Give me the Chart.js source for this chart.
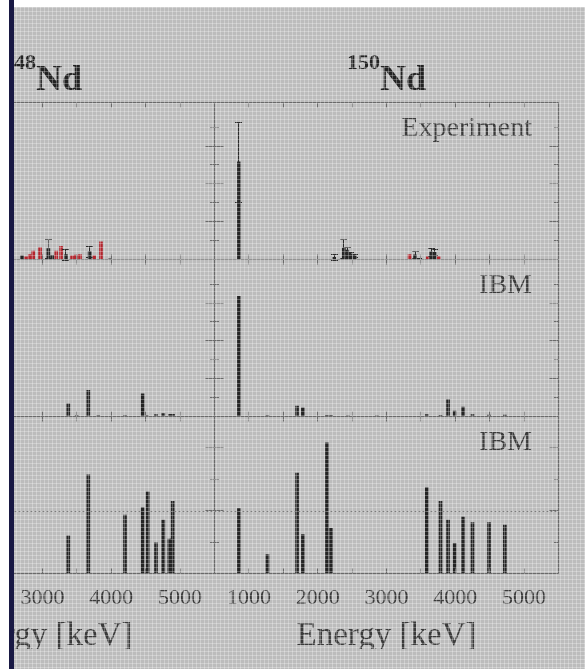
<!DOCTYPE html>
<html>
<head>
<meta charset="utf-8">
<script src="https://cdn.jsdelivr.net/npm/chart.js@4.4.1/dist/chart.umd.min.js"></script>
<style>
html, body { margin: 0; padding: 0; }
body { width: 585px; height: 669px; overflow: hidden; position: relative; background: #bcbcbc; font-family: "Liberation Serif", serif; }
canvas { position: absolute; }
.titulo { position: absolute; top: 51px; width: 200px; text-align: center; font-weight: bold; font-size: 36px; line-height: 1; color: #222; }
.titulo span { font-size: 22px; vertical-align: 21px; }
.etiqueta { position: absolute; right: 53px; font-size: 28px; line-height: 1; color: #3a3a3a; }
.trama { position: absolute; left: 0; top: 0; width: 585px; height: 669px; pointer-events: none;
    background-image: linear-gradient(90deg, rgba(255,255,255,.28) 1px, transparent 1px), linear-gradient(0deg, rgba(255,255,255,.28) 1px, transparent 1px);
    background-size: 4px 4px; }
.blanco-sup { position: absolute; left: 0; top: 0; width: 585px; height: 7px; background: #fff; }
.blanco-izq { position: absolute; left: 0; top: 0; width: 9px; height: 669px; background: #fff; }
.barra { position: absolute; left: 9px; top: 0; width: 5px; height: 669px; background: #181843; }
</style>
</head>
<body>
<canvas id="exp148" width="373" height="172" style="left:-144px;top:95px"></canvas>
<canvas id="ibm148" width="373" height="172" style="left:-144px;top:252px"></canvas>
<canvas id="rat148" width="373" height="240" style="left:-144px;top:409px"></canvas>
<canvas id="exp150" width="373" height="172" style="left:200px;top:95px"></canvas>
<canvas id="ibm150" width="373" height="172" style="left:200px;top:252px"></canvas>
<canvas id="rat150" width="373" height="240" style="left:200px;top:409px"></canvas>

<div class="titulo" style="left:-57.5px"><span>148</span>Nd</div>
<div class="titulo" style="left:286.5px"><span>150</span>Nd</div>
<div class="etiqueta" style="top:113px">Experiment</div>
<div class="etiqueta" style="top:270px">IBM</div>
<div class="etiqueta" style="top:427px">IBM</div>

<div class="trama"></div>
<div class="blanco-sup"></div>
<div class="blanco-izq"></div>
<div class="barra"></div>

<script>
// 148Nd, experimento (negro con error, rojo sin error)
var exp148E = [2700, 3085, 3140, 3340, 3685, 3980];
var exp148Val = [0.2, 0.58, 0.22, 0.26, 0.42, 0.03];
var exp148Err = [0, 0.52, 0, 0.27, 0.28, 0];
var exp148RojoE = [2760, 2815, 2865, 2965, 3200, 3270, 3430, 3485, 3545, 3750, 3850];
var exp148RojoVal = [0.14, 0.26, 0.44, 0.63, 0.45, 0.7, 0.2, 0.23, 0.26, 0.2, 0.93];

// 148Nd, IBM
var ibm148E = [3375, 3497, 3666, 3811, 4199, 4456, 4515, 4650, 4756, 4853, 4897];
var ibm148Val = [0.67, 0.05, 1.39, 0.05, 0.05, 1.2, 0.05, 0.1, 0.15, 0.12, 0.12];

// 148Nd, IBM (segundo panel)
var rat148E = [3375, 3666, 4199, 4456, 4529, 4650, 4756, 4843, 4878, 4892];
var rat148Val = [0.6, 1.57, 0.93, 1.05, 1.3, 0.49, 0.85, 0.55, 0.55, 1.15];

// 150Nd, experimento
var exp150E = [855, 2240, 2380, 2430, 2480, 2540, 3415, 3490, 3650, 3700];
var exp150Val = [5.16, 0.12, 0.6, 0.5, 0.3, 0.2, 0.25, 0.06, 0.4, 0.38];
var exp150Err = [2.1, 0.18, 0.5, 0.15, 0.08, 0.08, 0.18, 0, 0.22, 0.15];
var exp150RojoE = [3335, 3600, 3760];
var exp150RojoVal = [0.26, 0.14, 0.14];

// 150Nd, IBM
var ibm150E = [855, 1270, 1700, 1785, 2135, 2195, 2440, 2860, 3585, 3785, 3895, 3990, 4115, 4250, 4490, 4720];
var ibm150Val = [6.35, 0.05, 0.55, 0.46, 0.06, 0.06, 0.04, 0.03, 0.1, 0.06, 0.9, 0.28, 0.5, 0.1, 0.07, 0.07];

// 150Nd, IBM (segundo panel)
var rat150E = [855, 1270, 1700, 1785, 2135, 2195, 3585, 3785, 3895, 3990, 4115, 4250, 4490, 4720];
var rat150Val = [1.035, 0.3, 1.6, 0.62, 2.08, 0.72, 1.37, 1.15, 0.85, 0.48, 0.9, 0.81, 0.81, 0.77];

var ENERGIA_MIN = 500;
var ENERGIA_MAX = 5500;
var COLOR_NEGRO = '#242424';
var COLOR_ROJO = '#b2262e';
var COLOR_MARCO = '#6a6a6a';
var COLOR_TEXTO = '#3a3a3a';

var marco = {
    id: 'marco',
    afterDatasetsDraw: function (chart, args, opts) {
        var ctx = chart.ctx;
        var a = chart.chartArea;
        var ex = chart.scales.x;
        var ey = chart.scales.y;
        var snap = function (v) { return Math.round(v - 0.5) + 0.5; };
        ctx.save();

        // barras de error
        ctx.strokeStyle = '#2a2a2a';
        ctx.lineWidth = 1;
        chart.data.datasets.forEach(function (ds) {
            if (!ds.errores) return;
            ds.data.forEach(function (p, i) {
                var err = ds.errores[i];
                if (!err) return;
                var px = snap(ex.getPixelForValue(p.x));
                var yt = Math.round(ey.getPixelForValue(p.y + err)) + 0.5;
                var yb = Math.round(ey.getPixelForValue(Math.max(p.y - err, 0))) + 0.5;
                ctx.beginPath();
                ctx.moveTo(px, yt); ctx.lineTo(px, yb);
                ctx.moveTo(px - 3.5, yt); ctx.lineTo(px + 3.5, yt);
                ctx.moveTo(px - 3.5, yb); ctx.lineTo(px + 3.5, yb);
                ctx.stroke();
            });
        });

        // linea de referencia punteada
        if (opts.lineaRef !== null && opts.lineaRef !== undefined) {
            var yr = Math.round(ey.getPixelForValue(opts.lineaRef)) + 0.5;
            ctx.strokeStyle = '#4a4a4a';
            ctx.setLineDash([2, 2]);
            ctx.beginPath();
            ctx.moveTo(a.left, yr); ctx.lineTo(a.right, yr);
            ctx.stroke();
            ctx.setLineDash([]);
        }

        // marco y marcas hacia adentro
        ctx.strokeStyle = COLOR_MARCO;
        var l = snap(a.left), r = snap(a.right), t = snap(a.top), b = snap(a.bottom);
        ctx.beginPath();
        ctx.rect(l, t, r - l, b - t);
        ex.ticks.forEach(function (tk) {
            if (tk.value <= ex.min || tk.value >= ex.max) return;
            var px = snap(ex.getPixelForValue(tk.value));
            ctx.moveTo(px, t); ctx.lineTo(px, t + 5);
            ctx.moveTo(px, b); ctx.lineTo(px, b - 5);
        });
        ey.ticks.forEach(function (tk) {
            if (tk.value <= ey.min || tk.value >= ey.max - 1e-9) return;
            var py = snap(ey.getPixelForValue(tk.value));
            var q = tk.value / opts.mayor;
            var largo = Math.abs(q - Math.round(q)) < 1e-6 ? 9 : 4.5;
            ctx.moveTo(l, py); ctx.lineTo(l + largo, py);
            ctx.moveTo(r, py); ctx.lineTo(r - largo, py);
        });
        ctx.stroke();
        ctx.restore();
    }
};

function puntos(energias, valores) {
    return energias.map(function (e, i) {
        return {x: e, y: valores[i]};
    });
}

function serie(energias, valores, color, errores) {
    return {
        data: puntos(energias, valores),
        backgroundColor: color,
        borderWidth: 0,
        barThickness: 3,
        grouped: false,
        errores: errores || null
    };
}

function crearPanel(idCanvas, conjuntos, yMax, yPaso, yMayor, conEje, lineaRef) {
    return new Chart(document.getElementById(idCanvas), {
        type: 'bar',
        data: {datasets: conjuntos},
        plugins: [marco],
        options: {
            responsive: false,
            animation: false,
            devicePixelRatio: 1,
            events: [],
            layout: {
                padding: {left: 14.5, right: 14.5, top: 7.5, bottom: conEje ? 0.75 : 7.5}
            },
            plugins: {
                legend: {display: false},
                tooltip: {enabled: false},
                marco: {mayor: yMayor, lineaRef: lineaRef}
            },
            scales: {
                x: {
                    type: 'linear',
                    min: ENERGIA_MIN,
                    max: ENERGIA_MAX,
                    offset: false,
                    display: conEje,
                    grid: {display: false, drawTicks: false},
                    border: {display: false},
                    ticks: {
                        stepSize: 500,
                        autoSkip: false,
                        maxRotation: 0,
                        padding: 14,
                        color: COLOR_TEXTO,
                        font: {family: 'Liberation Serif', size: 22, lineHeight: 1},
                        callback: function (v) {
                            return v % 1000 === 0 ? String(v) : '';
                        }
                    },
                    title: {
                        display: conEje,
                        text: 'Energy [keV]',
                        color: COLOR_TEXTO,
                        padding: 0,
                        font: {family: 'Liberation Serif', size: 33, lineHeight: 0.75}
                    }
                },
                y: {
                    min: 0,
                    max: yMax,
                    display: false,
                    ticks: {stepSize: yPaso}
                }
            }
        }
    });
}

crearPanel('exp148', [
    serie(exp148E, exp148Val, COLOR_NEGRO, exp148Err),
    serie(exp148RojoE, exp148RojoVal, COLOR_ROJO)
], 8.3, 1, 2, false, null);
crearPanel('ibm148', [serie(ibm148E, ibm148Val, COLOR_NEGRO)], 8.3, 1, 2, false, null);
crearPanel('rat148', [serie(rat148E, rat148Val, COLOR_NEGRO)], 2.5, 0.5, 1, true, 1);

crearPanel('exp150', [
    serie(exp150E, exp150Val, COLOR_NEGRO, exp150Err),
    serie(exp150RojoE, exp150RojoVal, COLOR_ROJO)
], 8.3, 1, 2, false, null);
crearPanel('ibm150', [serie(ibm150E, ibm150Val, COLOR_NEGRO)], 8.3, 1, 2, false, null);
crearPanel('rat150', [serie(rat150E, rat150Val, COLOR_NEGRO)], 2.5, 0.5, 1, true, 1);
</script>
</body>
</html>
